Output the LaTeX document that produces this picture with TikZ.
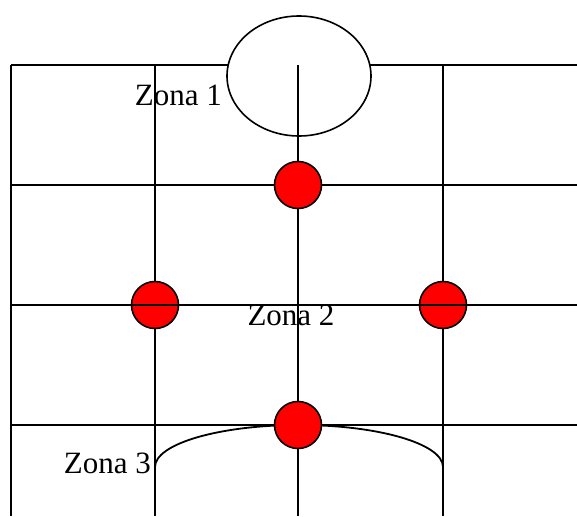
\documentclass[tikz,border=0pt]{standalone}
\usepackage{fontspec}
\setmainfont{Liberation Serif}
\usepackage{tikz}
\usetikzlibrary{shapes.geometric}

\begin{document}
\begin{tikzpicture}[
        x=1pt, y=-1pt,
        grid/.style={black, line width=1.8pt},
        rdot/.style={circle, draw=black, line width=1.6pt, fill=red, minimum size=47pt,
            inner sep=0pt},
        lab/.style={font=\fontsize{31}{34}\selectfont, inner sep=0pt}
    ]
    \useasboundingbox (0,0) rectangle (577,516);
    % grid lines
    \foreach \y in {65,185,425}
        \draw[grid] (11,\y) -- (577,\y);
    \node[ellipse, draw=black, line width=1.6pt, fill=white, minimum width=144pt,
        minimum height=120pt, inner sep=0pt] (zona1) at (299,76) {};
    \foreach \x in {11,155,298,443}
        \draw[grid] (\x,65) -- (\x,516);
    \draw[grid] (155,467) arc[start angle=180, end angle=0, x radius=144pt, y radius=42pt];
    % sensors
    \node[rdot] (top) at (298,185) {};
    \node[rdot] (left) at (155,305) {};
    \node[rdot] (right) at (443,305) {};
    \node[rdot] (bot) at (298,425) {};
    \draw[grid] (11,305) -- (577,305);
    % labels
    \node[lab, anchor=base east] (lz1) at (222,105) {Zona 1};
    \node[lab, anchor=base] (lz2) at (291,325) {Zona 2};
    \node[lab, anchor=base east] (lz3) at (151,473) {Zona 3};
\end{tikzpicture}
\end{document}
